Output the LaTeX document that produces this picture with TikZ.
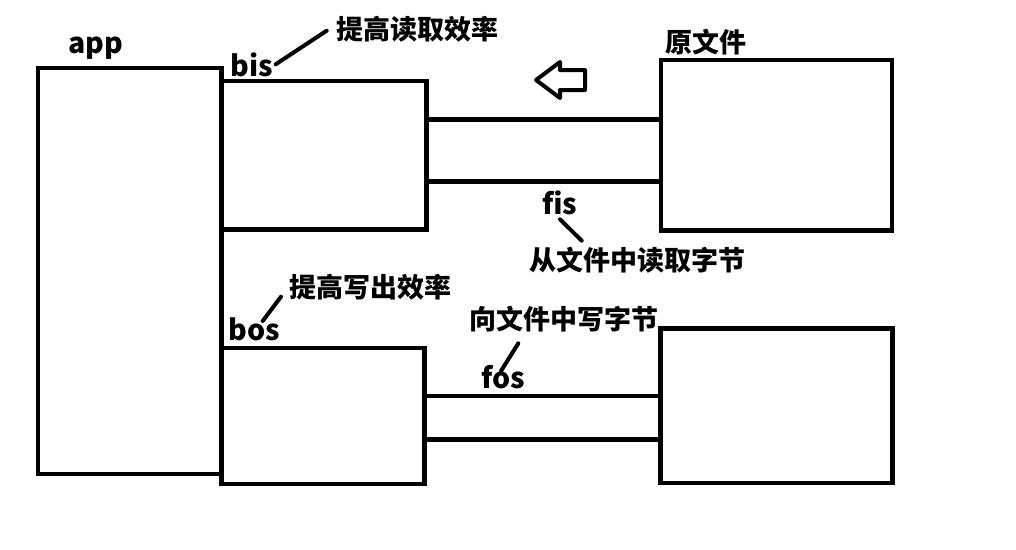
\documentclass[tikz,border=0pt]{standalone}
\usepackage{fontspec}
\setmainfont{Noto Sans CJK SC}
\begin{document}
\begin{tikzpicture}[x=1pt,y=-1pt,
  box/.style={draw, rectangle, line width=4.5pt, inner sep=0pt, outer sep=0pt},
  pipe/.style={line width=4.5pt},
  leader/.style={line width=4pt, line cap=round},
  hollow/.style={line width=4pt, line join=round},
  lbl/.style={inner sep=0pt, font=\fontsize{27}{29}\selectfont\bfseries},
  word/.style={inner sep=0pt, anchor=base, font=\fontsize{28.5}{30}\selectfont\bfseries}]
\useasboundingbox (0,0) rectangle (1016,549);

% stream boxes
\node[box, minimum width=183.5pt, minimum height=406pt] (app) at (129.75,271) {};
\node[box, minimum width=205pt, minimum height=148.5pt] (bis) at (324,155.25) {};
\node[box, minimum width=203pt, minimum height=136pt] (bos) at (323,416) {};
\node[box, minimum width=231pt, minimum height=170.5pt] (src) at (776.5,145.25) {};
\node[box, minimum width=232pt, minimum height=154.5pt] (dst) at (776.5,405.75) {};

% pipes between buffered streams and files
\coordinate (r1) at (0,119.5);
\coordinate (r2) at (0,181.5);
\coordinate (w1) at (0,396);
\coordinate (w2) at (0,439.5);
\draw[pipe] (bis.east |- r1) -- (src.west |- r1);
\draw[pipe] (bis.east |- r2) -- (src.west |- r2);
\draw[pipe] (bos.east |- w1) -- (dst.west |- w1);
\draw[pipe] (bos.east |- w2) -- (dst.west |- w2);

% direction of reading
\draw[hollow] (536,80) -- (560,62) -- (560,70) -- (585,70) -- (585,90)
  -- (560,90) -- (560,98) -- cycle;

% labels
\node[word] (appL) at (96,53) {app};
\node[word] (bisL) at (252,76) {bis};
\node[word] (fisL) at (560,214) {fis};
\node[word] (bosL) at (254,340) {bos};
\node[word] (fosL) at (503,388) {fos};
\node[lbl] (bisN) at (417.5,29.5) {提高读取效率};
\node[lbl] (srcN) at (706,42.5) {原文件};
\node[lbl] (fisN) at (637.5,260) {从文件中读取字节};
\node[lbl] (bosN) at (370,287.5) {提高写出效率};
\node[lbl] (fosN) at (564,319) {向文件中写字节};

% leader lines from stream names to notes
\coordinate (b1) at (275.7,64.3);  \coordinate (b2) at (326.7,30.7);
\coordinate (f1) at (560,219.3);   \coordinate (f2) at (581.7,240.7);
\coordinate (o1) at (262.7,321);   \coordinate (o2) at (281,296.7);
\coordinate (p1) at (501,371);     \coordinate (p2) at (518.3,343.3);
\draw[leader] (b1) -- (b2);
\draw[leader] (f1) -- (f2);
\draw[leader] (o1) -- (o2);
\draw[leader] (p1) -- (p2);
\end{tikzpicture}
\end{document}
